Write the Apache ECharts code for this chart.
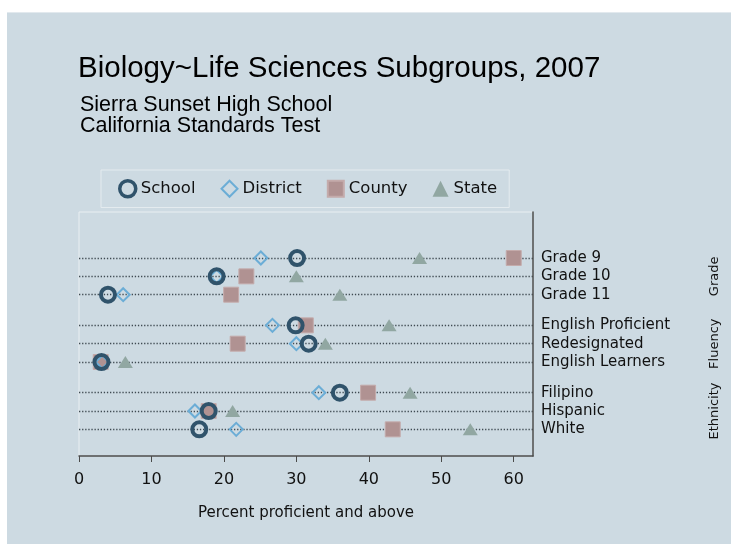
<!DOCTYPE html>
<html>
<head>
<meta charset="utf-8">
<script src="https://cdn.jsdelivr.net/npm/echarts@6/dist/echarts.min.js"></script>
<style>
  body { margin: 0; background: #fff; }
  #panel { position: absolute; left: 7px; top: 12px; width: 724px; height: 532px; background: #cddae2; border-top: 1px solid #e2e9ee; }
  #main { position: absolute; left: 0; top: 0; width: 731px; height: 544px; }
</style>
</head>
<body>
<div id="panel"></div>
<div id="main"></div>
<script>
// rows, top to bottom
var rowNames = ['Grade 9', 'Grade 10', 'Grade 11',
    'English Proficient', 'Redesignated', 'English Learners',
    'Filipino', 'Hispanic', 'White'];
var rowGroup = [0, 0, 0, 1, 1, 1, 2, 2, 2];
var groupNames = ['Grade', 'Fluency', 'Ethnicity'];

// percent proficient and above
var school   = [30.1, 19.0, 4.0, 29.9, 31.7, 3.1, 36.0, 17.9, 16.6];
var district = [25.1, 19.0, 6.1, 26.7, 30.0, 3.2, 33.1, 16.0, 21.7];
var county   = [60.0, 23.1, 21.0, 31.3, 21.9, 3.0, 39.9, 17.9, 43.3];
var state    = [47.0, 30.0, 36.0, 42.8, 34.0, 6.4, 45.7, 21.2, 54.0];

var xTicks = [0, 10, 20, 30, 40, 50, 60];

// layout: extra space between groups, in row units
var GROUP_GAP = 0.673;
var rowPos = rowNames.map(function (n, i) { return i + rowGroup[i] * GROUP_GAP; });
var groupPos = groupNames.map(function (g, gi) {
    var ps = rowPos.filter(function (p, i) { return rowGroup[i] === gi; });
    return ps.reduce(function (a, b) { return a + b; }, 0) / ps.length;
});

function pts(vals) {
    return vals.map(function (v, i) { return [v, rowPos[i]]; });
}
function nameAt(list, pos, v) {
    for (var i = 0; i < pos.length; i++) {
        if (Math.abs(pos[i] - v) < 1e-6) return list[i];
    }
    return '';
}

var FONT = 'DejaVu Sans';
var myChart = echarts.init(document.getElementById('main'));

myChart.setOption({
    backgroundColor: 'transparent',
    animation: false,
    title: [{
        text: 'Biology~Life Sciences Subgroups, 2007',
        left: 78, top: 54, padding: 0,
        textStyle: { fontFamily: 'Liberation Sans', fontSize: 29.5, fontWeight: 'normal', color: '#000' }
    }, {
        text: 'Sierra Sunset High School\nCalifornia Standards Test',
        left: 80, top: 95, padding: 0,
        textStyle: { fontFamily: 'Liberation Sans', fontSize: 21.5, lineHeight: 21, fontWeight: 'normal', color: '#000' }
    }],
    legend: {
        left: 101, top: 170,
        padding: [9, 12, 9, 17],
        itemGap: 25,
        itemWidth: 16, itemHeight: 16,
        borderColor: '#e4ebef', borderWidth: 1,
        textStyle: { fontFamily: FONT, fontSize: 16.5, color: '#111' },
        data: [
            { name: 'School', icon: 'circle', itemStyle: { color: 'transparent', borderColor: '#30536b', borderWidth: 3.5 } },
            { name: 'District', icon: 'diamond', itemStyle: { color: 'transparent', borderColor: '#6badd6', borderWidth: 2 } },
            { name: 'County', icon: 'rect' },
            { name: 'State', icon: 'triangle' }
        ]
    },
    grid: {
        left: 79, right: 198, top: 212, bottom: 88,
        show: true, borderColor: '#e9eff2', borderWidth: 1, backgroundColor: 'transparent'
    },
    xAxis: {
        type: 'value', min: 0, max: 62.66,
        name: 'Percent proficient and above',
        nameLocation: 'middle', nameGap: 50,
        nameTextStyle: { fontFamily: FONT, fontSize: 15, color: '#111' },
        axisLine: { show: true, onZero: false, lineStyle: { color: '#4a4a4a', width: 1.5 } },
        axisTick: { show: true, length: 6, customValues: xTicks, lineStyle: { color: '#4a4a4a' } },
        axisLabel: { customValues: xTicks, margin: 16, fontFamily: FONT, fontSize: 16, color: '#111' },
        splitLine: { show: false }
    },
    yAxis: [{
        type: 'value', inverse: true, min: -2.51, max: 10.8,
        position: 'right',
        axisLine: { show: true, onZero: false, lineStyle: { color: '#4a4a4a', width: 1.5 } },
        axisTick: { show: false, customValues: rowPos },
        axisLabel: {
            customValues: rowPos, margin: 8,
            fontFamily: FONT, fontSize: 15, color: '#111',
            formatter: function (v) { return nameAt(rowNames, rowPos, v); }
        },
        splitLine: { show: true, lineStyle: { color: '#3f4a52', width: 1.3, type: [1.3, 1.8] } }
    }, {
        type: 'value', inverse: true, min: -2.51, max: 10.8,
        position: 'right', offset: 171,
        axisLine: { show: false, onZero: false },
        axisTick: { show: false, customValues: groupPos },
        axisLabel: {
            customValues: groupPos, margin: 4, rotate: 90,
            fontFamily: FONT, fontSize: 13, color: '#111',
            formatter: function (v) { return nameAt(groupNames, groupPos, v); }
        },
        splitLine: { show: false }
    }],
    series: [{
        name: 'School', type: 'scatter', z: 5,
        symbol: 'circle', symbolSize: 14,
        itemStyle: { color: 'transparent', borderColor: '#30536b', borderWidth: 4, opacity: 1 },
        data: pts(school)
    }, {
        name: 'District', type: 'scatter', z: 4,
        symbol: 'diamond', symbolSize: 13,
        itemStyle: { color: 'transparent', borderColor: '#6badd6', borderWidth: 2, opacity: 1 },
        data: pts(district)
    }, {
        name: 'County', type: 'scatter', z: 3,
        symbol: 'rect', symbolSize: 15,
        itemStyle: { color: '#b09292', borderColor: '#c4abab', borderWidth: 1, opacity: 1 },
        data: pts(county)
    }, {
        name: 'State', type: 'scatter', z: 2,
        symbol: 'triangle', symbolSize: [15, 12],
        itemStyle: { color: '#91a7a2', opacity: 1 },
        data: pts(state)
    }]
});
</script>
</body>
</html>
